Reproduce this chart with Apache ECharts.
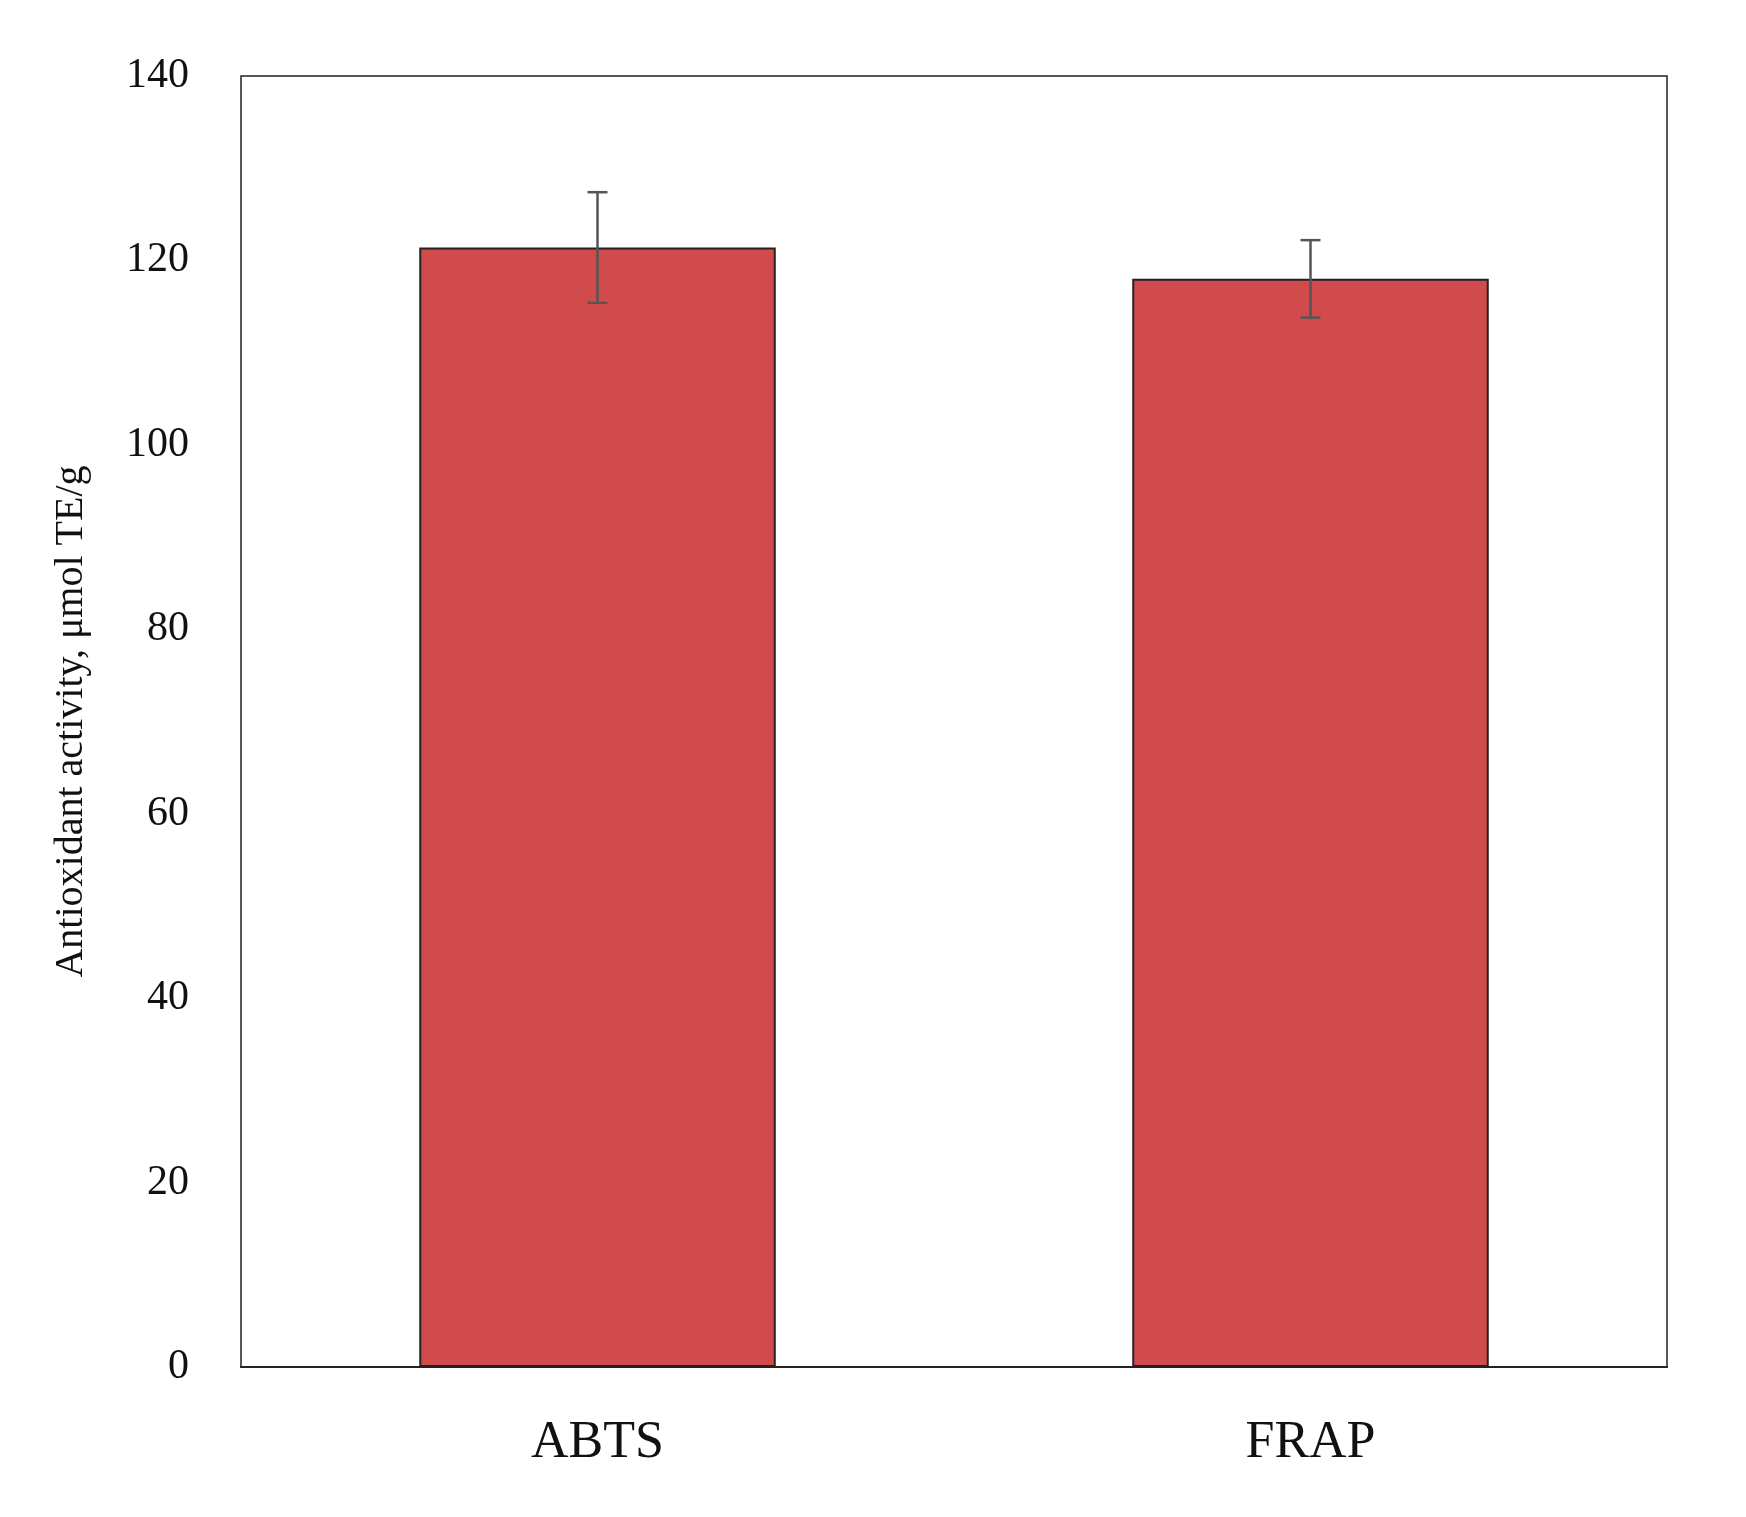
<!DOCTYPE html>
<html>
<head>
<meta charset="utf-8">
<script src="https://cdn.jsdelivr.net/npm/echarts@6/dist/echarts.min.js"></script>
</head>
<body style="margin:0;background:#fff">
<div id="main" style="width:1746px;height:1517px;"></div>
<script type="text/javascript">
var categories = ['ABTS', 'FRAP'];
var values = [121.4, 118.0];
var errors = [6.0, 4.2];
var yTicks = [0, 20, 40, 60, 80, 100, 120, 140];

var myChart = echarts.init(document.getElementById('main'));
var font = '"Liberation Serif", "DejaVu Serif", serif';

var option = {
    animation: false,
    grid: {left: 241, right: 79, top: 76, bottom: 150, show: true, borderColor: '#222', borderWidth: 1.5},
    xAxis: {
        type: 'category',
        data: categories,
        axisLine: {lineStyle: {color: '#222', width: 2}},
        axisTick: {show: false},
        axisLabel: {fontFamily: font, fontSize: 52, color: '#111', margin: 50}
    },
    yAxis: {
        type: 'value',
        min: yTicks[0], max: yTicks[yTicks.length - 1], interval: 20,
        name: 'Antioxidant activity, μmol TE/g',
        nameLocation: 'middle', nameGap: 150,
        nameTextStyle: {fontFamily: font, fontSize: 40, color: '#111'},
        axisLine: {show: false},
        axisTick: {show: false},
        splitLine: {show: false},
        axisLabel: {fontFamily: font, fontSize: 42, color: '#111', margin: 52}
    },
    series: [
        {
            type: 'bar',
            data: values,
            barWidth: '50%',
            itemStyle: {color: '#D14B4D', borderColor: '#222', borderWidth: 2}
        },
        {
            type: 'custom',
            z: 10,
            data: categories.map(function (c, i) { return [i, values[i] - errors[i], values[i] + errors[i]]; }),
            renderItem: function (params, api) {
                var lo = api.coord([api.value(0), api.value(1)]);
                var hi = api.coord([api.value(0), api.value(2)]);
                var w = 10;
                var st = {stroke: '#555', lineWidth: 2.5};
                return {type: 'group', children: [
                    {type: 'line', shape: {x1: lo[0], y1: lo[1], x2: hi[0], y2: hi[1]}, style: st},
                    {type: 'line', shape: {x1: lo[0] - w, y1: lo[1], x2: lo[0] + w, y2: lo[1]}, style: st},
                    {type: 'line', shape: {x1: hi[0] - w, y1: hi[1], x2: hi[0] + w, y2: hi[1]}, style: st}
                ]};
            }
        }
    ]
};
myChart.setOption(option);
</script>
</body>
</html>
